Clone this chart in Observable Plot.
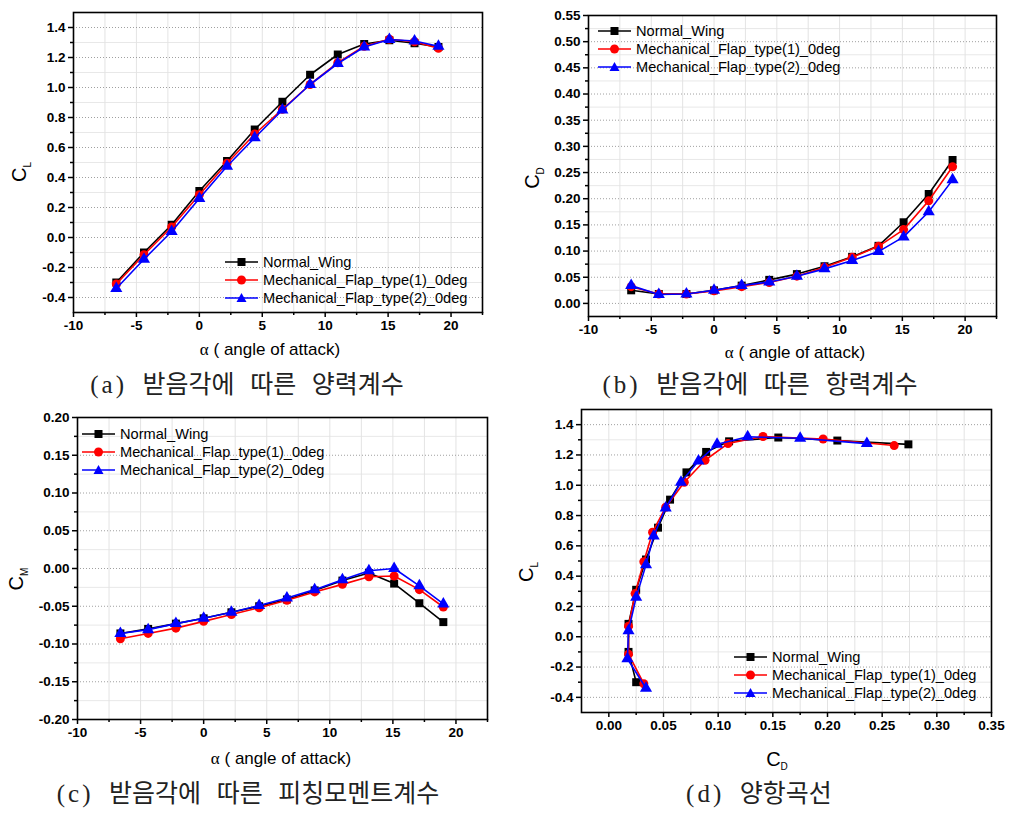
<!DOCTYPE html>
<html><head><meta charset="utf-8">
<script src="https://cdn.jsdelivr.net/npm/d3@7"></script>
<script src="https://cdn.jsdelivr.net/npm/@observablehq/plot@0.6"></script>
<style>
body{margin:0;background:#fff;}
#root{position:relative;width:1013px;height:813px;font-family:"Liberation Sans",Arial,sans-serif;color:#000;overflow:hidden;}
.panel{position:absolute;}
.lbl{position:absolute;font-size:17px;white-space:nowrap;transform:translate(-50%,-50%);}
.ylbl{position:absolute;font-size:20px;white-space:nowrap;transform:translate(-50%,-50%) rotate(-90deg);}
.ylbl sub,.lbl sub{font-size:10px;}
.cap{position:absolute;font-family:"Noto Sans CJK KR";font-size:25px;white-space:nowrap;transform:translate(-50%,-50%);word-spacing:10px;color:#222;}
.cap .p{font-family:"Liberation Serif",serif;font-size:25px;letter-spacing:3px;}
.leg{position:absolute;font-size:14.6px;}
.leg .row{display:flex;align-items:center;height:18px;white-space:nowrap;}
.leg svg{margin-right:5px;}
</style></head><body><div id="root"></div>
<script>
// ---- data ----
const seriesNames = ["Normal_Wing", "Mechanical_Flap_type(1)_0deg", "Mechanical_Flap_type(2)_0deg"];
const seriesColors = ["#000000", "#ff0000", "#0000ff"];
const seriesSymbols = ["square", "circle", "triangle"];

const alpha = [-6.6, -4.4, -2.2, 0, 2.2, 4.4, 6.6, 8.8, 11, 13.1, 15.1, 17.1, 19];

const clNormal = [-0.30, -0.10, 0.085, 0.31, 0.51, 0.72, 0.905, 1.085, 1.22, 1.29, 1.315, 1.295, 1.27];
const clType1  = [-0.31, -0.115, 0.07, 0.285, 0.495, 0.69, 0.855, 1.02, 1.165, 1.275, 1.322, 1.305, 1.262];
const clType2  = [-0.34, -0.145, 0.04, 0.26, 0.475, 0.665, 0.85, 1.02, 1.16, 1.27, 1.32, 1.31, 1.275];

const cdNormal = [0.025, 0.018, 0.018, 0.025, 0.034, 0.045, 0.056, 0.071, 0.089, 0.110, 0.155, 0.209, 0.274];
const cdType1  = [0.032, 0.018, 0.018, 0.024, 0.032, 0.040, 0.052, 0.069, 0.088, 0.109, 0.141, 0.196, 0.261];
const cdType2  = [0.034, 0.017, 0.018, 0.025, 0.034, 0.041, 0.052, 0.066, 0.082, 0.099, 0.127, 0.175, 0.236];

const cmNormal = [-0.086, -0.080, -0.073, -0.066, -0.058, -0.050, -0.041, -0.029, -0.016, -0.006, -0.020, -0.046, -0.071];
const cmType1  = [-0.093, -0.086, -0.079, -0.070, -0.061, -0.052, -0.042, -0.031, -0.021, -0.011, -0.010, -0.028, -0.051];
const cmType2  = [-0.086, -0.081, -0.073, -0.066, -0.058, -0.049, -0.039, -0.028, -0.015, -0.003, 0.000, -0.023, -0.047];

// ticks
const alphaTicks = [-10, -5, 0, 5, 10, 15, 20];
const alphaMinor = [-7.5, -2.5, 2.5, 7.5, 12.5, 17.5, 22.5];
const clTicks = [-0.4, -0.2, 0.0, 0.2, 0.4, 0.6, 0.8, 1.0, 1.2, 1.4];
const clMinor = [-0.5, -0.3, -0.1, 0.1, 0.3, 0.5, 0.7, 0.9, 1.1, 1.3, 1.5];
const cdTicks = [0.00, 0.05, 0.10, 0.15, 0.20, 0.25, 0.30, 0.35, 0.40, 0.45, 0.50, 0.55];
const cdMinor = [-0.025, 0.025, 0.075, 0.125, 0.175, 0.225, 0.275, 0.325, 0.375, 0.425, 0.475, 0.525];
const cmTicks = [-0.20, -0.15, -0.10, -0.05, 0.00, 0.05, 0.10, 0.15, 0.20];
const cmMinor = [-0.175, -0.125, -0.075, -0.025, 0.025, 0.075, 0.125, 0.175];
const cdXTicks = [0.00, 0.05, 0.10, 0.15, 0.20, 0.25, 0.30, 0.35];
const cdXMinor = [-0.025, 0.025, 0.075, 0.125, 0.175, 0.225, 0.275, 0.325];

const captions = ["받음각에 따른 양력계수", "받음각에 따른 항력계수", "받음각에 따른 피칭모멘트계수", "양항곡선"];

// ---- table ----
const cl = [clNormal, clType1, clType2], cd = [cdNormal, cdType1, cdType2], cm = [cmNormal, cmType1, cmType2];
const rows = [];
seriesNames.forEach((s, k) => alpha.forEach((a, i) => rows.push({series: s, alpha: a, cl: cl[k][i], cd: cd[k][i], cm: cm[k][i]})));

const root = document.getElementById("root");
const tickFont = {fontSize: 13.5, fontWeight: "bold", fontFamily: "'Liberation Sans', Arial, sans-serif"};

function panel(o) {
  const marks = [
    Plot.gridX([...o.xMajor, ...o.xMinor], {stroke: "#dcdcdc", strokeOpacity: 1, strokeWidth: 0.8}),
    Plot.gridY(o.yMinor, {stroke: "#e2e2e2", strokeOpacity: 1, strokeWidth: 0.8}),
    Plot.gridY(o.yMajor, {stroke: "#888", strokeOpacity: 1, strokeWidth: 0.8, strokeDasharray: "1,2"})
  ];
  seriesNames.forEach(s => {
    const d = rows.filter(r => r.series === s);
    marks.push(Plot.line(d, {x: o.xKey, y: o.yKey, stroke: "series", strokeWidth: 1.6}));
    marks.push(Plot.dot(d, {x: o.xKey, y: o.yKey, symbol: "series", fill: "series", r: 4.5}));
  });
  marks.push(
    Plot.frame({stroke: "#000", strokeWidth: 1.6}),
    Plot.axisX(o.xMajor, {tickSize: 5, tickPadding: 3, tickFormat: o.xFmt, strokeWidth: 1.5, ...tickFont}),
    Plot.axisX(o.xMinor.filter(v => v > o.xDomain[0] && v <= o.xDomain[1]), {tickSize: 3, tickFormat: () => "", strokeWidth: 1.5}),
    Plot.axisY(o.yMajor, {tickSize: 5, tickPadding: 3, tickFormat: o.yFmt, strokeWidth: 1.5, ...tickFont}),
    Plot.axisY(o.yMinor.filter(v => v > o.yDomain[0] && v < o.yDomain[1]), {tickSize: 3, tickFormat: () => "", strokeWidth: 1.5})
  );
  const svg = Plot.plot({
    width: o.width, height: o.height,
    marginLeft: o.ml, marginRight: o.mr, marginTop: o.mt, marginBottom: o.mb,
    x: {domain: o.xDomain, label: null},
    y: {domain: o.yDomain, label: null},
    color: {domain: seriesNames, range: seriesColors},
    symbol: {domain: seriesNames, range: seriesSymbols},
    style: {fontFamily: "'Liberation Sans', Arial, sans-serif", fontSize: "13.5px", fontWeight: "bold", color: "#000", background: "transparent", overflow: "visible"},
    marks
  });
  const div = document.createElement("div");
  div.className = "panel";
  div.style.left = o.left + "px"; div.style.top = o.top + "px";
  div.appendChild(svg);
  root.appendChild(div);
}

function html(cls, x, y, inner) {
  const d = document.createElement("div");
  d.className = cls; d.style.left = x + "px"; d.style.top = y + "px"; d.innerHTML = inner;
  root.appendChild(d);
}

function legend(x, y) {
  const d = document.createElement("div");
  d.className = "leg"; d.style.left = x + "px"; d.style.top = y + "px";
  seriesNames.forEach((s, k) => {
    const c = seriesColors[k];
    let sym;
    if (k === 0) sym = `<rect x="12.5" y="5" width="8" height="8" fill="${c}"/>`;
    else if (k === 1) sym = `<circle cx="16.5" cy="9" r="4.5" fill="${c}"/>`;
    else sym = `<path d="M16.5,4 L21.5,13 L11.5,13 Z" fill="${c}"/>`;
    d.innerHTML += `<div class="row"><svg width="33" height="18"><line x1="0" x2="33" y1="9" y2="9" stroke="${c}" stroke-width="1.6"/>${sym}</svg><span>${s}</span></div>`;
  });
  root.appendChild(d);
}

const f1 = d3.format(".1f"), f2 = d3.format(".2f"), f0 = d3.format("d");
const minus = f => v => f(v).replace("−", "-");

// (a)
panel({left: 0, top: 0, width: 500, height: 360, ml: 73, mr: 18, mt: 12, mb: 48,
  xDomain: [-10, 22.5], yDomain: [-0.5, 1.5], xMajor: alphaTicks, xMinor: alphaMinor, yMajor: clTicks, yMinor: clMinor,
  xFmt: minus(f0), yFmt: minus(f1), xKey: "alpha", yKey: "cl"});
// (b)
panel({left: 500, top: 0, width: 513, height: 360, ml: 88, mr: 17, mt: 15, mb: 44,
  xDomain: [-10, 22.5], yDomain: [-0.025, 0.55], xMajor: alphaTicks, xMinor: alphaMinor, yMajor: cdTicks, yMinor: cdMinor,
  xFmt: minus(f0), yFmt: minus(f2), xKey: "alpha", yKey: "cd"});
// (c)
panel({left: 0, top: 400, width: 500, height: 360, ml: 77, mr: 13, mt: 17, mb: 41,
  xDomain: [-10, 22.5], yDomain: [-0.2, 0.2], xMajor: alphaTicks, xMinor: alphaMinor, yMajor: cmTicks, yMinor: cmMinor,
  xFmt: minus(f0), yFmt: minus(f2), xKey: "alpha", yKey: "cm"});
// (d)
panel({left: 500, top: 400, width: 513, height: 360, ml: 81, mr: 22, mt: 9, mb: 48,
  xDomain: [-0.025, 0.35], yDomain: [-0.5, 1.5], xMajor: cdXTicks, xMinor: cdXMinor, yMajor: clTicks, yMinor: clMinor,
  xFmt: minus(f2), yFmt: minus(f1), xKey: "cd", yKey: "cl"});

// axis titles
html("lbl", 270, 350, "<span style='font-family:Liberation Serif'>α</span> ( angle of attack)");
html("lbl", 795, 353, "<span style='font-family:Liberation Serif'>α</span> ( angle of attack)");
html("lbl", 281, 759, "<span style='font-family:Liberation Serif'>α</span> ( angle of attack)");
html("lbl", 777, 760, "<span style='font-size:20px'>C</span><sub>D</sub>");
html("ylbl", 20, 172, "C<sub>L</sub>");
html("ylbl", 533, 178, "C<sub>D</sub>");
html("ylbl", 17, 579, "C<sub>M</sub>");
html("ylbl", 527, 572, "C<sub>L</sub>");

// legends
legend(225, 253);
legend(598, 22);
legend(82, 425);
legend(734, 648);

// captions
html("cap", 247, 382, "<span class='p'>(a)</span> " + captions[0]);
html("cap", 760, 382, "<span class='p'>(b)</span> " + captions[1]);
html("cap", 248, 791, "<span class='p'>(c)</span> " + captions[2]);
html("cap", 759, 791, "<span class='p'>(d)</span> " + captions[3]);
</script></body></html>
